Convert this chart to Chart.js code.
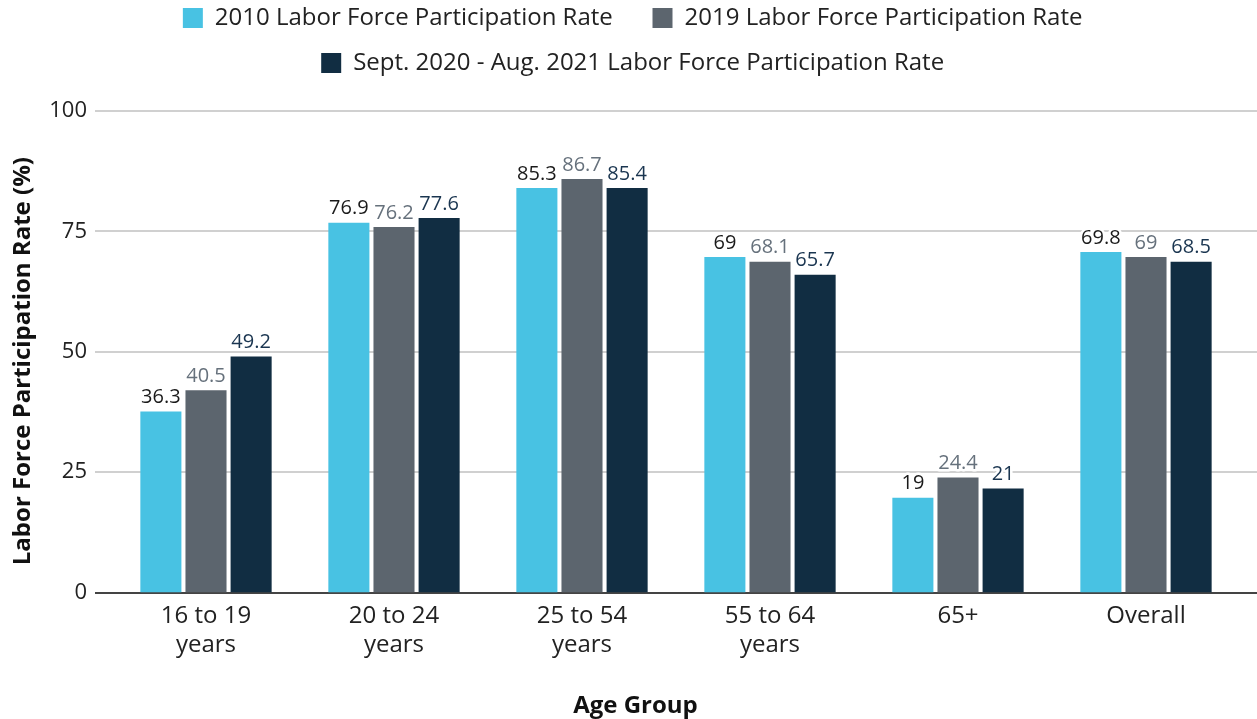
<!DOCTYPE html>
<html>
<head>
<meta charset="utf-8">
<script src="https://cdn.jsdelivr.net/npm/chart.js@4/dist/chart.umd.min.js"></script>
<style>
  html, body { margin: 0; padding: 0; background: #fff; }
  #wrap { width: 1257px; height: 719px; }
</style>
</head>
<body>
<div id="wrap"><canvas id="laborChart"></canvas></div>
<script>
const ageGroups = [['16 to 19', 'years'], ['20 to 24', 'years'], ['25 to 54', 'years'], ['55 to 64', 'years'], '65+', 'Overall'];

// bar heights as drawn, and the value labels printed above them
const rate2010 = [37.6, 76.8, 84.0, 69.7, 19.7, 70.7];
const rate2019 = [42.0, 75.9, 85.9, 68.7, 23.9, 69.7];
const rate2021 = [49.0, 77.8, 84.0, 66.0, 21.6, 68.7];
const text2010 = ['36.3', '76.9', '85.3', '69', '19', '69.8'];
const text2019 = ['40.5', '76.2', '86.7', '68.1', '24.4', '69'];
const text2021 = ['49.2', '77.6', '85.4', '65.7', '21', '68.5'];

const yTicks = [0, 25, 50, 75, 100];

const FONT = "'Open Sans', 'Noto Sans', sans-serif";
const pad = n => '\u00a0'.repeat(n);

// value labels above each bar, with a white halo
const barLabels = {
    id: 'barLabels',
    afterDatasetsDraw(chart) {
        const c = chart.ctx;
        c.save();
        c.font = '20px ' + FONT;
        c.textAlign = 'center';
        c.textBaseline = 'bottom';
        c.lineJoin = 'round';
        chart.data.datasets.forEach((ds, i) => {
            const meta = chart.getDatasetMeta(i);
            meta.data.forEach((bar, j) => {
                const txt = ds.valueText[j];
                c.lineWidth = 5;
                c.strokeStyle = '#fff';
                c.strokeText(txt, bar.x, bar.y - 4);
                c.fillStyle = ds.labelColor;
                c.fillText(txt, bar.x, bar.y - 4);
            });
        });
        c.restore();
    }
};

// horizontal grid lines spanning from the axis to the right edge
const wideGrid = {
    id: 'wideGrid',
    beforeDatasetsDraw(chart) {
        const c = chart.ctx;
        const y = chart.scales.y;
        c.save();
        c.strokeStyle = '#d0d0d0';
        c.lineWidth = 2;
        y.ticks.forEach(t => {
            if (t.value === 0) return;
            const py = Math.round(y.getPixelForValue(t.value));
            c.beginPath();
            c.moveTo(95, py);
            c.lineTo(chart.width, py);
            c.stroke();
        });
        const p0 = Math.round(y.getPixelForValue(0));
        c.strokeStyle = '#444';
        c.beginPath();
        c.moveTo(95, p0);
        c.lineTo(chart.width, p0);
        c.stroke();
        c.restore();
    }
};

// extra room under the legend, and nudge the legend a little right
const legendSpace = {
    id: 'legendSpace',
    beforeInit(chart) {
        const fit = chart.legend.fit;
        chart.legend.fit = function () {
            fit.bind(chart.legend)();
            this.height += 26;
        };
    },
    afterLayout(chart) {
        chart.legend.left += 22;
        chart.legend.right += 22;
    }
};

const ctx = document.getElementById('laborChart');
new Chart(ctx, {
    type: 'bar',
    data: {
        labels: ageGroups,
        datasets: [{
            label: '2010 Labor Force Participation Rate',
            data: rate2010,
            valueText: text2010,
            labelColor: '#1a1a1a',
            backgroundColor: '#48c2e3'
        }, {
            label: '2019 Labor Force Participation Rate',
            data: rate2019,
            valueText: text2019,
            labelColor: '#66717c',
            backgroundColor: '#5c656e'
        }, {
            label: 'Sept. 2020 - Aug. 2021 Labor Force Participation Rate',
            data: rate2021,
            valueText: text2021,
            labelColor: '#1a3550',
            backgroundColor: '#112d42'
        }]
    },
    options: {
        responsive: true,
        maintainAspectRatio: false,
        animation: false,
        layout: { padding: { left: 0, right: 17, top: -15, bottom: -2 } },
        datasets: {
            bar: { categoryPercentage: 0.72, barPercentage: 0.91 }
        },
        scales: {
            x: {
                grid: { display: false },
                border: { display: false },
                ticks: {
                    color: '#222',
                    font: { family: FONT, size: 24, lineHeight: 1.2 },
                    maxRotation: 0,
                    padding: 1
                },
                title: {
                    display: true,
                    text: 'Age Group' + pad(13),
                    color: '#111',
                    font: { family: FONT, size: 24, weight: 'bold', lineHeight: 1.2 },
                    padding: { top: 32, bottom: 0 }
                }
            },
            y: {
                min: 0,
                max: 100,
                afterBuildTicks: axis => { axis.ticks = yTicks.map(v => ({ value: v })); },
                afterFit: axis => { axis.width = 112; },
                grid: { display: false },
                border: { display: false },
                ticks: {
                    color: '#222',
                    font: { family: FONT, size: 22 },
                    padding: 17
                },
                title: {
                    display: true,
                    text: 'Labor Force Participation Rate (%)' + pad(3),
                    color: '#111',
                    font: { family: FONT, size: 24, weight: 'bold', lineHeight: 1.2 },
                    padding: { top: 9, bottom: 0 }
                }
            }
        },
        plugins: {
            legend: {
                display: true,
                position: 'top',
                align: 'center',
                labels: {
                    color: '#222',
                    font: { family: FONT, size: 24 },
                    boxWidth: 20,
                    boxHeight: 20,
                    padding: 21,
                    generateLabels: chart =>
                        Chart.defaults.plugins.legend.labels.generateLabels(chart)
                            .map(item => ({ ...item, text: item.text + '   ' }))
                }
            },
            tooltip: { enabled: false }
        }
    },
    plugins: [wideGrid, barLabels, legendSpace]
});
</script>
</body>
</html>
